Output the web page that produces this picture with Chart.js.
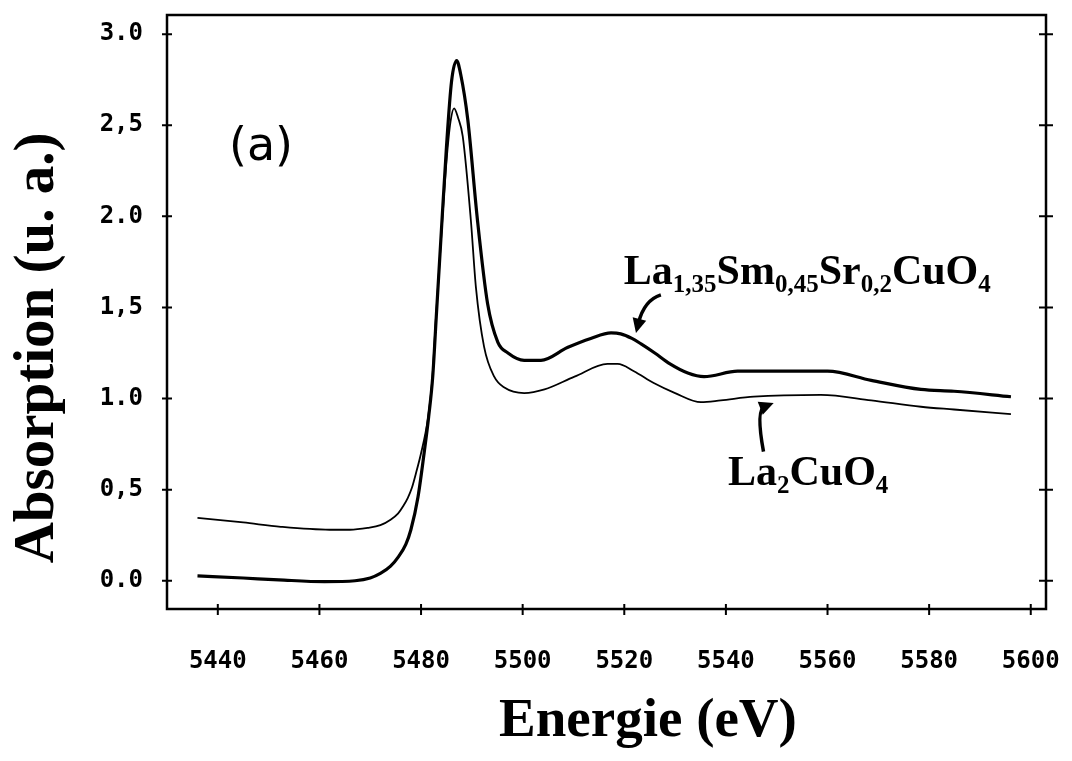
<!DOCTYPE html>
<html lang="fr">
<head>
<meta charset="UTF-8" />
<title>Absorption (u. a.) / Energie (eV)</title>
<script src="https://cdn.jsdelivr.net/npm/chart.js"></script>
<style>
  html, body { margin: 0; padding: 0; background: #fff; }
  .chart-container { width: 1072px; height: 761px; }
</style>
</head>
<body>
<div class="chart-container">
  <canvas id="chart" width="1072" height="761"></canvas>
</div>
<script>
// La1.35Sm0.45Sr0.2CuO4 (thick line)
const energySm = [5436, 5445, 5452, 5461, 5467, 5470, 5472, 5474, 5475.5, 5477, 5478, 5479.4,
  5480.6, 5481.5, 5482.3, 5483, 5484, 5485, 5486, 5487, 5487.8, 5489.2, 5491.1, 5493.1, 5495.1,
  5497.1, 5500.3, 5503.6, 5508.8, 5513.4, 5517.4, 5519.3, 5521.5, 5523.3, 5526, 5529, 5532.5,
  5535.7, 5542.3, 5552.2, 5560, 5568.6, 5578.4, 5584.9, 5596.1];
const absSm = [0.027, 0.015, 0.005, -0.005, 0.0, 0.015, 0.04, 0.08, 0.13, 0.20, 0.28, 0.46,
  0.70, 0.90, 1.12, 1.45, 1.92, 2.38, 2.74, 2.855, 2.78, 2.53, 1.98, 1.52, 1.31,
  1.25, 1.21, 1.21, 1.28, 1.33, 1.36, 1.355, 1.33, 1.30, 1.25, 1.19, 1.14,
  1.12, 1.15, 1.15, 1.15, 1.10, 1.05, 1.04, 1.01];

// La2CuO4 (thin line)
const energyLa = [5436, 5445, 5452.4, 5462, 5466, 5469.5, 5472, 5474, 5475.5, 5476.5, 5477.4,
  5478.2, 5479, 5480, 5481.3, 5482.2, 5482.9, 5484, 5485, 5485.8, 5486.5, 5487.3, 5488.2, 5489.8,
  5490.8, 5492.4, 5494.4, 5496.4, 5500.3, 5504.3, 5510.2, 5516.7, 5518.7, 5521.9, 5525.8, 5530,
  5535.1, 5539, 5545.5, 5558.7, 5568.6, 5578.4, 5584.9, 5596.1];
const absLa = [0.345, 0.32, 0.296, 0.28, 0.28, 0.29, 0.305, 0.335, 0.37, 0.41, 0.455,
  0.51, 0.59, 0.70, 0.88, 1.10, 1.43, 1.90, 2.30, 2.52, 2.593, 2.54, 2.44, 1.98,
  1.61, 1.285, 1.12, 1.06, 1.03, 1.05, 1.12, 1.19, 1.19, 1.15, 1.085, 1.03,
  0.98, 0.99, 1.01, 1.02, 0.99, 0.955, 0.94, 0.915];

const xTicks = [5440, 5460, 5480, 5500, 5520, 5540, 5560, 5580, 5600];
const yTicks = [0, 0.5, 1, 1.5, 2, 2.5, 3];
const yTickLabels = ["0.0", "0,5", "1.0", "1,5", "2.0", "2,5", "3.0"];

const formulaSm = [["La", 0], ["1,35", 1], ["Sm", 0], ["0,45", 1], ["Sr", 0], ["0,2", 1], ["CuO", 0], ["4", 1]];
const formulaLa = [["La", 0], ["2", 1], ["CuO", 0], ["4", 1]];

// where the notes sit, in data units
const notes = {
    panel: [5448.5, 2.375],
    sm: [5519.9, 1.63],
    la: [5540.4, 0.527],
    arrowSm: [[5527.2, 1.569], [5523.9, 1.54], [5522.3, 1.36]],
    arrowLa: [[5547.4, 0.709], [5545.9, 0.938], [5549.4, 0.976]],
};

const serif = '"Liberation Serif", "Times New Roman", serif';
const mono = '"DejaVu Sans Mono", monospace';

const toPoints = (xs, ys) => xs.map((x, i) => ({ x: x, y: ys[i] }));

const drawFormula = (ctx, parts, x, y) => {
    let cx = x;
    parts.forEach(([txt, sub]) => {
        ctx.font = sub ? "bold 25px " + serif : "bold 42px " + serif;
        ctx.fillText(txt, cx, sub ? y + 8 : y);
        cx += ctx.measureText(txt).width;
    });
};

const drawArrow = (ctx, pts) => {
    const [p0, pc, p1] = pts;
    const ang = Math.atan2(p1[1] - pc[1], p1[0] - pc[0]);
    const back = [p1[0] - 10 * Math.cos(ang), p1[1] - 10 * Math.sin(ang)];
    ctx.lineWidth = 3.5;
    ctx.beginPath();
    ctx.moveTo(p0[0], p0[1]);
    ctx.quadraticCurveTo(pc[0], pc[1], back[0], back[1]);
    ctx.stroke();
    ctx.beginPath();
    ctx.moveTo(p1[0], p1[1]);
    ctx.lineTo(p1[0] - 16 * Math.cos(ang - 0.45), p1[1] - 16 * Math.sin(ang - 0.45));
    ctx.lineTo(p1[0] - 16 * Math.cos(ang + 0.45), p1[1] - 16 * Math.sin(ang + 0.45));
    ctx.closePath();
    ctx.fill();
};

const decor = {
    id: "decor",
    afterDraw(chart) {
        const ctx = chart.ctx;
        const { left, right, top, bottom } = chart.chartArea;
        const xs = chart.scales.x, ys = chart.scales.y;
        const px = (p) => [xs.getPixelForValue(p[0]), ys.getPixelForValue(p[1])];
        ctx.save();
        ctx.strokeStyle = "#000";
        ctx.fillStyle = "#000";

        // frame
        ctx.lineWidth = 2.5;
        ctx.strokeRect(left, top, right - left, bottom - top);

        // crossing tick marks
        ctx.lineWidth = 2;
        ctx.beginPath();
        xTicks.forEach((v) => {
            const x = xs.getPixelForValue(v);
            if (x < right - 5) {
                ctx.moveTo(x, bottom - 5);
                ctx.lineTo(x, bottom + 6);
            }
        });
        yTicks.forEach((v) => {
            const y = ys.getPixelForValue(v);
            ctx.moveTo(left - 5, y);
            ctx.lineTo(left + 5, y);
            ctx.moveTo(right - 7, y);
            ctx.lineTo(right + 7, y);
        });
        ctx.stroke();

        // panel letter
        ctx.font = '46px "DejaVu Sans", sans-serif';
        ctx.textAlign = "center";
        ctx.textBaseline = "middle";
        const pp = px(notes.panel);
        ctx.fillText("(a)", pp[0], pp[1]);

        // formulas
        ctx.textAlign = "left";
        ctx.textBaseline = "alphabetic";
        const ps = px(notes.sm);
        drawFormula(ctx, formulaSm, ps[0], ps[1]);
        const pl = px(notes.la);
        drawFormula(ctx, formulaLa, pl[0], pl[1]);

        drawArrow(ctx, notes.arrowSm.map(px));
        drawArrow(ctx, notes.arrowLa.map(px));

        // axis titles
        ctx.font = "bold 55px " + serif;
        ctx.textAlign = "center";
        ctx.textBaseline = "middle";
        ctx.fillText("Energie (eV)", 648, 722);
        ctx.font = "bold 57px " + serif;
        ctx.translate(38, 348);
        ctx.rotate(-Math.PI / 2);
        ctx.fillText("Absorption (u. a.)", 0, 0);
        ctx.restore();
    },
};

new Chart("chart", {
    type: "line",
    data: {
        datasets: [
            {
                label: "La1,35Sm0,45Sr0,2CuO4",
                data: toPoints(energySm, absSm),
                borderColor: "#000",
                borderWidth: 3.2,
                pointRadius: 0,
                cubicInterpolationMode: "monotone",
                fill: false,
            },
            {
                label: "La2CuO4",
                data: toPoints(energyLa, absLa),
                borderColor: "#000",
                borderWidth: 1.8,
                pointRadius: 0,
                cubicInterpolationMode: "monotone",
                fill: false,
            },
        ],
    },
    options: {
        responsive: false,
        animation: false,
        devicePixelRatio: 1,
        layout: { padding: { top: 15, right: 26, left: 0, bottom: 0 } },
        plugins: {
            legend: { display: false },
            tooltip: { enabled: false },
        },
        scales: {
            x: {
                type: "linear",
                min: 5430,
                max: 5603,
                grid: { display: false, drawTicks: false },
                border: { display: false },
                afterBuildTicks: (s) => { s.ticks = xTicks.map((v) => ({ value: v })); },
                afterFit: (s) => {
                    s.height = 152;
                    s.paddingLeft = 0;
                    s.paddingRight = 0;
                },
                ticks: {
                    padding: 38,
                    maxRotation: 0,
                    color: "#000",
                    font: { family: mono, size: 24, weight: "bold" },
                    callback: (v) => String(v),
                },
            },
            y: {
                min: -0.155,
                max: 3.105,
                grid: { display: false, drawTicks: false },
                border: { display: false },
                afterBuildTicks: (s) => { s.ticks = yTicks.map((v) => ({ value: v })); },
                afterFit: (s) => {
                    s.width = 167;
                    s.paddingTop = 0;
                    s.paddingBottom = 0;
                },
                ticks: {
                    padding: 24,
                    color: "#000",
                    font: { family: mono, size: 24, weight: "bold" },
                    callback: (v) => yTickLabels[yTicks.indexOf(v)],
                },
            },
        },
    },
    plugins: [decor],
});
</script>
</body>
</html>
